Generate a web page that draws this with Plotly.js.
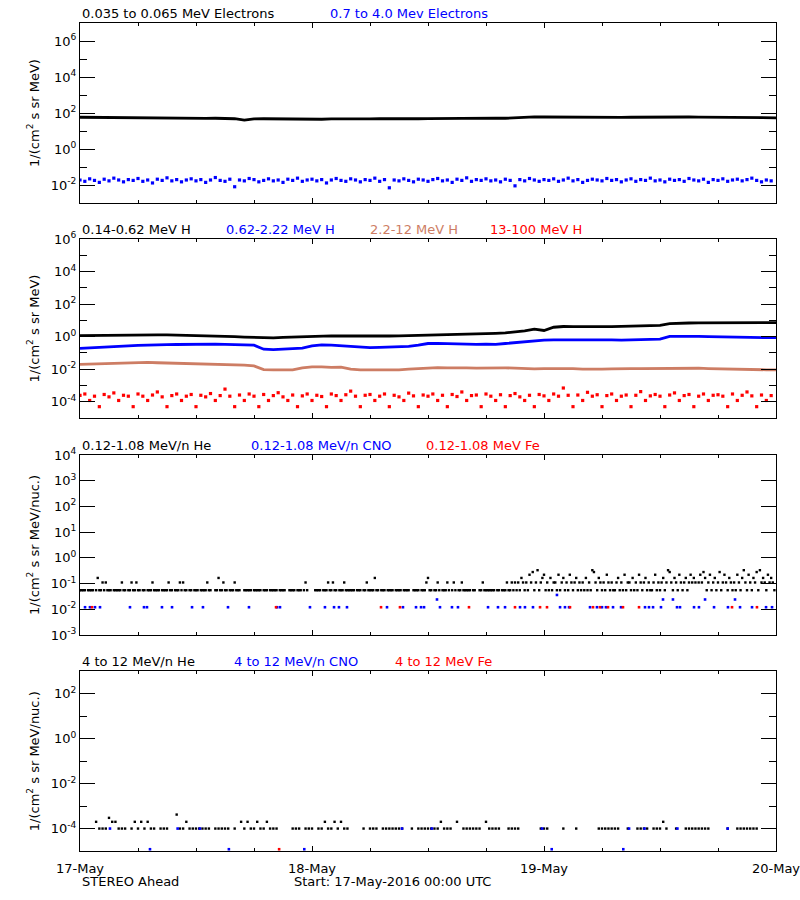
<!DOCTYPE html>
<html>
<head>
<meta charset="utf-8">
<script src="https://cdn.plot.ly/plotly-3.0.1.min.js"></script>
<style>html,body{margin:0;padding:0;background:#fff;}#chart{width:800px;height:900px;}</style>
</head>
<body>
<div id="chart"></div>
<script>
// ---------------- DATA ----------------
const startDate = '2016-05-17';
const dayTicks = ['2016-05-17', '2016-05-18', '2016-05-19', '2016-05-20'];
const dayLabels = ['17-May', '18-May', '19-May', '20-May'];

// Panel 1: electrons
// 0.035-0.065 MeV electrons, hourly
const eLow = [58,57,56,58,55,56,54,55,53,54,52,
  52,51,50,51,49,48,40,47,48,47,
  48,46,47,46,45,47,46,45,46,47,
  48,47,48,49,48,49,50,49,50,51,
  50,51,52,51,55,60,61,
  60,59,58,59,60,58,59,58,57,58,
  59,60,61,62,61,60,59,58,57,56,
  56,55,54,55,54];
// 0.7-4.0 MeV electrons, 30-min
const eHigh = [
  .019,.016,.022,.018,.014,.021,.017,.024,.019,.015,.02,.018,
  .023,.016,.019,.013,.021,.018,.025,.017,.02,.015,.019,.022,
  .017,.02,.014,.019,.026,.018,.016,.021,.008,.019,.017,.023,
  .02,.015,.018,.022,.017,.019,.014,.021,.018,.024,.016,.019,
  .021,.017,.02,.013,.019,.023,.018,.016,.022,.019,.015,.02,
  .018,.024,.016,.02,.007,.019,.017,.022,.018,.015,.021,.019,
  .016,.02,.023,.017,.019,.014,.021,.018,.025,.016,.02,.018,
  .022,.017,.019,.015,.021,.018,.009,.02,.017,.023,.019,.016,
  .02,.018,.022,.016,.019,.024,.017,.02,.014,.018,.021,.019,
  .017,.023,.018,.02,.015,.019,.022,.016,.02,.018,.024,.017,
  .019,.015,.021,.018,.02,.016,.023,.019,.017,.021,.014,.02,
  .018,.022,.016,.019,.021,.017,.02,.024,.018,.015,.019,.017];

// Panel 2: protons (hourly for first three, 30-min for the last)
const h1 = [1.15,1.18,1.2,1.22,1.25,1.3,1.32,1.35,1.3,1.28,
  1.25,1.22,1.2,1.15,1.1,1.05,1.0,0.95,0.9,0.85,
  0.85,0.9,0.95,1.0,1.05,1.1,1.12,1.1,1.08,1.1,
  1.1,1.12,1.1,1.12,1.15,1.2,1.25,1.3,1.35,1.4,
  1.45,1.5,1.5,1.6,1.7,1.9,2.3,2.9,2.4,3.8,
  4.2,4.1,4.0,4.1,4.1,4.2,4.3,4.5,4.6,4.7,
  5.0,6.3,6.8,6.9,7.1,7.2,7.2,7.3,7.2,7.3,
  7.3,7.2,7.3];
const h2 = [0.19,0.2,0.21,0.23,0.25,0.27,0.29,0.31,0.3,0.32,
  0.33,0.34,0.33,0.34,0.35,0.34,0.33,0.34,0.3,0.17,
  0.16,0.17,0.18,0.2,0.27,0.31,0.3,0.28,0.26,0.23,
  0.21,0.22,0.23,0.24,0.25,0.3,0.38,0.39,0.37,0.36,
  0.35,0.34,0.35,0.34,0.38,0.43,0.52,0.6,0.62,0.63,
  0.64,0.63,0.62,0.63,0.64,0.63,0.62,0.64,0.66,0.68,
  0.7,1.05,1.08,1.06,1.04,1.02,0.98,0.95,0.93,0.92,
  0.9,0.88,0.87];
const h3 = [0.02,0.021,0.022,0.023,0.024,0.025,0.026,0.026,0.025,0.024,
  0.024,0.023,0.023,0.022,0.021,0.02,0.019,0.018,0.016,0.0095,
  0.009,0.0088,0.009,0.012,0.014,0.014,0.013,0.0135,0.01,0.0092,
  0.009,0.0088,0.009,0.0092,0.01,0.011,0.012,0.0125,0.012,0.0115,
  0.012,0.0118,0.0122,0.0125,0.012,0.0118,0.011,0.0105,0.0108,0.011,
  0.0105,0.011,0.0102,0.0098,0.01,0.0105,0.0102,0.0108,0.011,0.0112,
  0.0115,0.012,0.0118,0.0122,0.0115,0.011,0.0105,0.0102,0.0098,0.01,
  0.0095,0.0092,0.009];
const h4 = [
  2.5e-4,3e-4,1.2e-4,2.2e-4,5e-5,2.8e-4,2e-4,3.5e-4,1.2e-4,2.5e-4,2.2e-4,5e-5,
  3e-4,2.2e-4,1.2e-4,2.6e-4,4e-4,2e-4,5e-5,2.4e-4,3e-4,1.2e-4,2.2e-4,2.8e-4,
  5e-5,2.5e-4,2e-4,3.2e-4,1.2e-4,2.4e-4,6e-4,2.2e-4,5e-5,2.6e-4,1.2e-4,3e-4,
  2.2e-4,5e-5,2.8e-4,1.2e-4,2.4e-4,3.6e-4,2e-4,1.2e-4,2.6e-4,5e-5,2.3e-4,3e-4,
  1.2e-4,2.5e-4,2.1e-4,5e-5,3e-4,2.4e-4,1.2e-4,2.7e-4,4.5e-4,2.2e-4,5e-5,2.5e-4,
  2.8e-4,1.2e-4,2.2e-4,3e-4,5e-5,2.5e-4,2e-4,1.2e-4,3.4e-4,2.3e-4,5e-5,2.6e-4,
  2.2e-4,3e-4,1.2e-4,2.5e-4,5e-5,2.8e-4,2.1e-4,4e-4,1.2e-4,2.4e-4,2.6e-4,5e-5,
  3e-4,2.2e-4,1.2e-4,2.7e-4,5e-5,2.4e-4,3.2e-4,2e-4,1.2e-4,2.5e-4,5e-5,2.8e-4,
  2.3e-4,1.2e-4,3e-4,2.2e-4,7e-4,2.5e-4,5e-5,2.6e-4,1.2e-4,3.8e-4,2.2e-4,2.7e-4,
  5e-5,2.4e-4,3e-4,1.2e-4,2.2e-4,2.6e-4,5e-5,2.5e-4,4.2e-4,1.2e-4,2.3e-4,2.8e-4,
  2.2e-4,5e-5,2.6e-4,3.5e-4,1.2e-4,2.4e-4,2.8e-4,5e-5,2.2e-4,3e-4,1.2e-4,2.5e-4,
  2.7e-4,2.2e-4,5e-5,3e-4,1.2e-4,2.5e-4,4e-4,2.3e-4,5e-5,2.6e-4,1.2e-4,2.4e-4];

// Panel 3: 0.12-1.08 MeV/n He, 10-min (0 = no data)
const heLow = [
  .055,.055,.055,.055,0,.055,.055,.055,.055,0,.055,.165,.055,.055,.11,.055,.11,.055,.055,.055,0,.055,.055,.055,
  .055,.055,.11,.055,.055,0,.055,.055,.11,.055,.055,.11,.055,.055,0,.055,.055,0,.055,.055,.055,.11,.055,.055,
  .055,.055,0,.055,.055,.055,.055,.11,.055,.055,0,.055,.055,.055,.11,.055,.11,.055,.055,0,.055,.055,0,.055,
  .055,.055,0,.055,.055,.055,.055,.11,.055,.055,0,0,.055,.055,.165,.055,.055,.11,.055,.055,0,.055,.055,.055,
  .11,.055,.055,.055,0,0,.055,.055,.055,.055,.055,0,.055,.055,.055,.055,.055,0,.055,.055,.055,0,.055,.055,
  .055,.055,.055,0,.055,.055,.055,.055,0,0,.055,.055,.055,.055,0,.055,.055,.055,0,.055,.11,.055,0,0,
  0,0,.055,.055,.055,.055,0,.055,.055,.055,.11,.055,.055,.11,.055,.055,0,.055,.055,.055,.11,.055,.055,.055,
  .055,.055,.055,0,.055,.055,.055,0,.055,.055,.11,.055,.055,.055,.055,.165,.055,.055,0,.055,.055,.055,0,.055,
  .055,.055,.055,0,.055,.055,.055,.055,0,.055,.055,.055,.055,0,0,.055,.055,.055,.055,0,.055,.055,.055,.11,
  .165,.055,.055,0,.055,.055,.11,.055,0,.055,.055,.055,.11,.055,0,.055,.11,.055,0,.055,.055,.11,.055,.055,
  .055,.055,.055,0,.055,.055,0,0,.055,.055,.11,.055,.055,.055,.055,.055,.055,.055,0,.055,.055,0,.055,.055,
  .055,.11,.055,.055,.11,.055,.11,.055,.11,.055,.165,.11,.055,.11,.055,.22,.11,.28,.055,.11,.33,.055,.11,.165,
  .22,.055,.11,.055,.165,.055,.11,.11,.055,.22,.055,.11,.165,.055,.11,.055,.22,.11,.055,.11,.165,.055,.11,.055,
  .11,.055,.165,.055,.11,.055,.33,.28,.11,.055,.165,.11,.055,.11,.055,.22,.11,.055,.11,.055,.055,.11,.165,.055,
  .11,.055,.22,.055,.11,.11,.055,.165,.055,.11,.055,.22,.11,.055,.11,.165,.055,.11,.055,.055,.11,.22,.055,.11,
  .055,.11,.165,.055,.11,.33,.28,.11,.055,.165,.11,.055,.22,.11,.055,.11,.165,.055,.11,.22,.11,.165,.11,0,
  .11,.22,.11,.28,.165,.055,.11,.22,.055,.11,.165,.055,.11,.28,.055,.11,.22,.11,.055,.165,.11,.055,.11,.055,
  .22,.11,.055,.165,.33,.11,.055,.22,.11,.055,.165,.11,.28,.055,.33,.11,.165,.11,.055,.22,.11,.165,.11,.055];
// sparse CNO and Fe (hours after start, flux)
const cnoLowHours = [0.52,1.03,1.55,2.07,5.17,6.62,6.93,8.48,9.52,11.59,12.72,15.31,17.48,20.38,20.69,23.79,25.34,26.28,26.79,27.62,
  31.76,33.41,34.76,35.28,35.59,36.93,37.24,38.48,39.1,42.21,43.24,43.97,45.52,46.03,46.86,49.34,49.66,50.17,50.59,52.76,
  53.48,54.0,54.41,55.14,55.97,58.45,58.86,59.28,60.1,60.31,61.34,61.76,62.07,63.52,64.03,64.66,65.59,67.03,67.76,68.28,
  69.52,70.97,71.59];
const cnoLowFlux = [.012,.012,.012,.012,.012,.012,.012,.012,.012,.012,.012,.012,.012,.012,.012,.012,.012,.012,.012,.012,
  .012,.012,.012,.012,.012,.024,.012,.012,.012,.012,.012,.012,.012,.012,.012,.036,.012,.012,.012,.012,
  .012,.012,.012,.012,.012,.012,.012,.012,.012,.024,.024,.012,.012,.012,.012,.024,.012,.012,.024,.012,
  .012,.012,.012];
const feLowHours = [1.24,20.28,31.14,33.1,40.24,45.0,47.59,48.31,50.69,53.07,53.79,54.62,56.17,57.83,67.45,70.03];
const feLowFlux = [.012,.012,.012,.012,.012,.012,.012,.012,.012,.012,.012,.012,.012,.012,.012,.012];

// Panel 4: 4-12 MeV/n He, 20-min (0 = no data)
const heHigh = [
  0,0,0,0,0,2e-4,1e-4,1e-4,1e-4,3e-4,
  2e-4,2e-4,1e-4,1e-4,1e-4,0,1e-4,2e-4,1e-4,2e-4,
  1e-4,2e-4,1e-4,1e-4,0,1e-4,1e-4,1e-4,0,0,
  4.2e-4,1e-4,1e-4,2e-4,1e-4,1e-4,1e-4,1e-4,1e-4,1e-4,
  1e-4,0,1e-4,1e-4,1e-4,1e-4,1e-4,0,1e-4,0,
  2e-4,1e-4,2e-4,1e-4,1e-4,2e-4,1e-4,1e-4,2e-4,1e-4,
  1e-4,1e-4,0,0,0,0,1e-4,1e-4,1e-4,0,
  1e-4,1e-4,1e-4,0,1e-4,1e-4,2e-4,1e-4,1e-4,2e-4,
  1e-4,2e-4,1e-4,1e-4,0,0,0,0,1e-4,0,
  1e-4,1e-4,1e-4,0,1e-4,1e-4,1e-4,1e-4,1e-4,1e-4,
  1e-4,0,0,1e-4,0,1e-4,1e-4,1e-4,1e-4,1e-4,
  1e-4,1e-4,2e-4,1e-4,1e-4,1e-4,0,2e-4,0,1e-4,
  1e-4,1e-4,1e-4,1e-4,1e-4,0,2e-4,1e-4,1e-4,1e-4,
  1e-4,0,0,1e-4,1e-4,1e-4,1e-4,0,0,0,
  0,0,0,1e-4,1e-4,1e-4,0,0,0,0,
  1e-4,0,0,0,1e-4,0,0,0,0,0,
  0,1e-4,1e-4,1e-4,1e-4,1e-4,1e-4,1e-4,0,0,
  1e-4,0,0,1e-4,1e-4,1e-4,1e-4,0,1e-4,1e-4,
  1e-4,2e-4,1e-4,0,0,1e-4,0,0,1e-4,1e-4,
  1e-4,1e-4,1e-4,1e-4,1e-4,1e-4,0,0,0,0,
  0,1e-4,0,0,1e-4,1e-4,1e-4,1e-4,1e-4,1e-4,
  1e-4,0,0,0,0,0];
const cnoHighHours = [3.1,10.1,12.4,33.3,36.4,47.8,56.8,58.4,61.8,67.0, 7.24,15.4,23.2,48.8,56.2];
const cnoHighFlux = [1e-4,1e-4,1e-4,1e-4,1e-4,1e-4,1e-4,1e-4,1e-4,1e-4, 1.2e-5,1.2e-5,1.2e-5,1.2e-5,1.2e-5];
const feHighHours = [20.6];
const feHighFlux = [1.2e-5];

// ---------------- BUILD ----------------
const T0 = Date.UTC(2016, 4, 17);
function hourToDate(h) { return new Date(T0 + h * 3600000).toISOString().slice(0, 19).replace('T', ' '); }
function regularTimes(n, stepMin) { const a = []; for (let i = 0; i < n; i++) a.push(hourToDate(i * stepMin / 60)); return a; }
function clean(v) { return v.map(x => (x > 0 ? x : null)); }

const BLUE = '#0000ff', RED = '#ff0000', SIENNA = '#cd7d64', BLACK = '#000000';
const FONT = 'DejaVu Sans';

function lineTrace(y, step, color, ax) {
  return { x: regularTimes(y.length, step), y: y, mode: 'lines', line: { color: color, width: 2.8 },
    xaxis: ax[0], yaxis: ax[1], hoverinfo: 'skip', showlegend: false };
}
function dotTrace(x, y, color, ax, size) {
  return { x: x, y: clean(y), mode: 'markers', marker: { color: color, size: size || 2.6, symbol: 'square', line: { width: 0 } },
    xaxis: ax[0], yaxis: ax[1], hoverinfo: 'skip', showlegend: false };
}

const A1 = ['x', 'y'], A2 = ['x2', 'y2'], A3 = ['x3', 'y3'], A4 = ['x4', 'y4'];
const data = [
  lineTrace(eLow, 60, BLACK, A1),
  dotTrace(regularTimes(eHigh.length, 30), eHigh, BLUE, A1, 3.2),
  lineTrace(h1, 60, BLACK, A2),
  lineTrace(h2, 60, BLUE, A2),
  lineTrace(h3, 60, SIENNA, A2),
  dotTrace(regularTimes(h4.length, 30), h4, RED, A2, 3.2),
  dotTrace(regularTimes(heLow.length, 10), heLow, BLACK, A3, 2.4),
  dotTrace(cnoLowHours.map(hourToDate), cnoLowFlux, BLUE, A3),
  dotTrace(feLowHours.map(hourToDate), feLowFlux, RED, A3),
  dotTrace(regularTimes(heHigh.length, 20), heHigh, BLACK, A4, 2.4),
  dotTrace(cnoHighHours.map(hourToDate), cnoHighFlux, BLUE, A4),
  dotTrace(feHighHours.map(hourToDate), feHighFlux, RED, A4)
];

function sup(e) { return '10<sup>' + e + '</sup>'; }
function xAxis(anchor, showLabels) {
  return { type: 'date', anchor: anchor, range: ['2016-05-17', '2016-05-20'],
    tickmode: 'array', tickvals: dayTicks, ticktext: dayLabels, showticklabels: showLabels,
    ticklabeloverflow: 'allow',
    ticks: 'inside', ticklen: 5, tickwidth: 1, tickcolor: BLACK,
    minor: { dtick: 6 * 3600000, ticks: 'inside', ticklen: 3, tickwidth: 1, tickcolor: BLACK, showgrid: false },
    showline: true, linecolor: BLACK, linewidth: 1, mirror: 'ticks', showgrid: false, zeroline: false,
    ticklabelstandoff: 5, tickfont: { family: FONT, size: 13, color: BLACK } };
}
function yAxis(anchor, domain, range, majors, minors, title) {
  return { type: 'log', anchor: anchor, domain: domain, range: range,
    tickmode: 'array', tickvals: majors.map(e => Math.pow(10, e)), ticktext: majors.map(sup),
    ticks: 'inside', ticklen: 15, tickwidth: 1, tickcolor: BLACK,
    minor: { tickmode: 'array', tickvals: minors.map(e => Math.pow(10, e)), ticks: 'inside', ticklen: 7, tickwidth: 1, tickcolor: BLACK, showgrid: false },
    showline: true, linecolor: BLACK, linewidth: 1, mirror: 'ticks', showgrid: false, zeroline: false,
    tickfont: { family: FONT, size: 13, color: BLACK },
    title: { text: title, standoff: 8, font: { family: FONT, size: 13, color: BLACK } } };
}

const D1 = [0.7826, 1.0], D2 = [0.5229, 0.7391], D3 = [0.2609, 0.4783], D4 = [0.0, 0.2168];
const T_MEV = '1/(cm<sup>2</sup> s sr MeV)';
const T_NUC = '1/(cm<sup>2</sup> s sr MeV/nuc.)';

function label(text, px, top, color) {
  return { text: text, xref: 'paper', yref: 'paper', x: (px - 80) / 696, y: top, xanchor: 'left', yanchor: 'bottom',
    yshift: 0, showarrow: false, font: { family: FONT, size: 13, color: color } };
}

const annotations = [
  label('0.035 to 0.065 MeV Electrons', 80, D1[1], BLACK),
  label('0.7 to 4.0 Mev Electrons', 328, D1[1], BLUE),
  label('0.14-0.62 MeV H', 80, D2[1], BLACK),
  label('0.62-2.22 MeV H', 224, D2[1], BLUE),
  label('2.2-12 MeV H', 368, D2[1], SIENNA),
  label('13-100 MeV H', 488, D2[1], RED),
  label('0.12-1.08 MeV/n He', 80, D3[1], BLACK),
  label('0.12-1.08 MeV/n CNO', 249, D3[1], BLUE),
  label('0.12-1.08 MeV Fe', 424, D3[1], RED),
  label('4 to 12 MeV/n He', 80, D4[1], BLACK),
  label('4 to 12 MeV/n CNO', 232, D4[1], BLUE),
  label('4 to 12 MeV Fe', 393, D4[1], RED),
  { text: 'STEREO Ahead', xref: 'paper', yref: 'paper', x: 0, y: (851 - 881) / 828, xanchor: 'left', yanchor: 'middle',
    showarrow: false, font: { family: FONT, size: 13, color: BLACK } },
  { text: 'Start: 17-May-2016 00:00 UTC', xref: 'paper', yref: 'paper', x: (292 - 80) / 696, y: (851 - 881) / 828,
    xanchor: 'left', yanchor: 'middle', showarrow: false, font: { family: FONT, size: 13, color: BLACK } }
];

const layout = {
  width: 800, height: 900, autosize: false,
  margin: { l: 80, r: 24, t: 23, b: 49, pad: 0 },
  paper_bgcolor: '#ffffff', plot_bgcolor: '#ffffff',
  font: { family: FONT, size: 13, color: BLACK },
  showlegend: false,
  xaxis: xAxis('y', false), xaxis2: xAxis('y2', false), xaxis3: xAxis('y3', false), xaxis4: xAxis('y4', true),
  yaxis: yAxis('x', D1, [-3, 7], [-2, 0, 2, 4, 6], [-3, -1, 1, 3, 5, 7], T_MEV),
  yaxis2: yAxis('x2', D2, [-5, 6], [-4, -2, 0, 2, 4, 6], [-5, -3, -1, 1, 3, 5], T_MEV),
  yaxis3: yAxis('x3', D3, [-3, 4], [-3, -2, -1, 0, 1, 2, 3, 4], [], T_NUC),
  yaxis4: yAxis('x4', D4, [-5, 3], [-4, -2, 0, 2], [-5, -3, -1, 1, 3], T_NUC),
  annotations: annotations
};

Plotly.newPlot('chart', data, layout, { displayModeBar: false, staticPlot: true });
</script>
</body>
</html>
